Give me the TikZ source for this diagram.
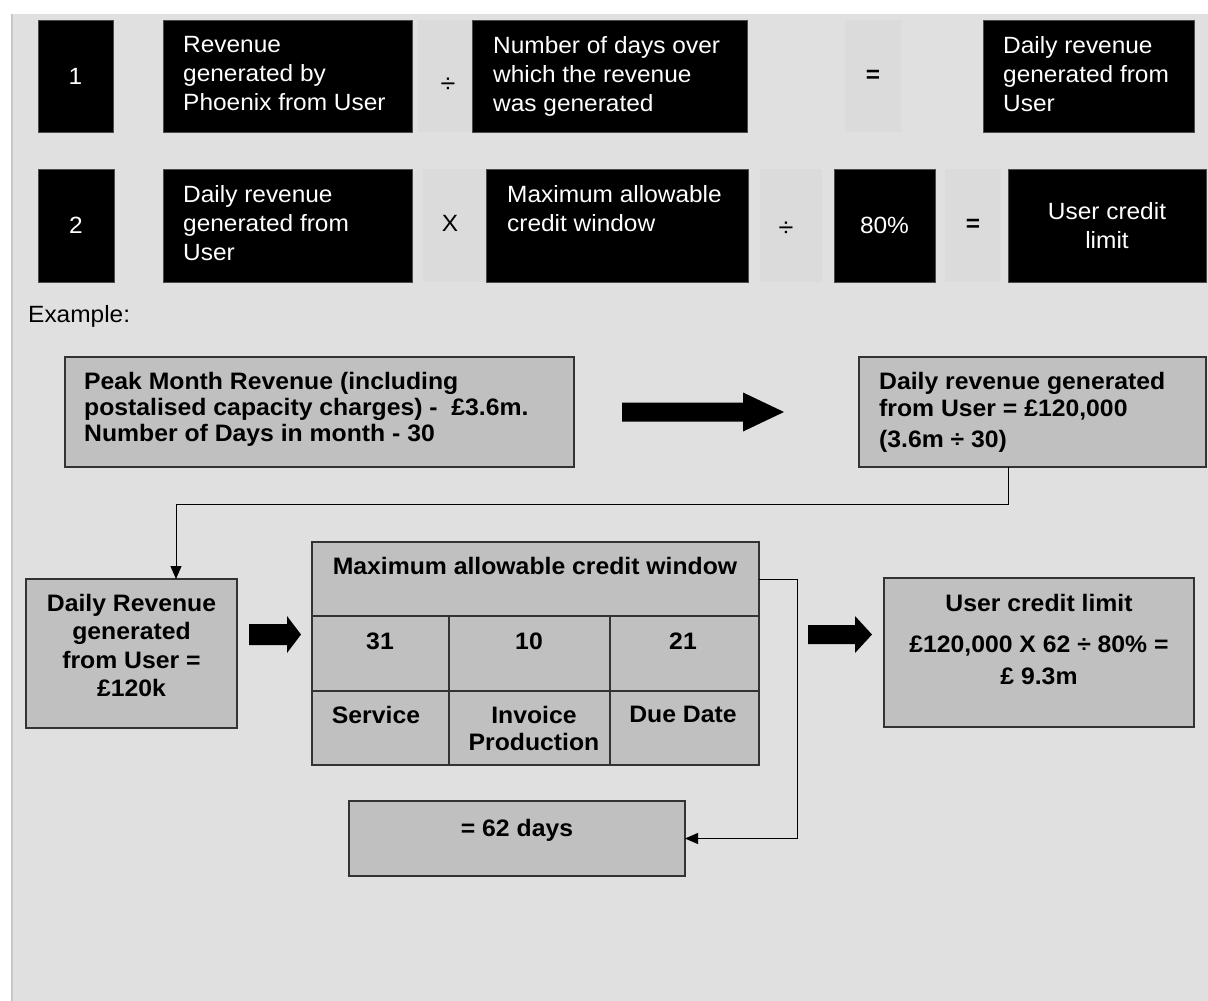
\documentclass[tikz,border=0pt]{standalone}
\usepackage{fontspec}
\setmainfont{Liberation Sans}[FakeStretch=1.04]
\usetikzlibrary{arrows.meta}
\definecolor{bg}{HTML}{E0E0E0}
\definecolor{opbg}{HTML}{DBDBDB}
\definecolor{boxg}{HTML}{C0C0C0}
\definecolor{edge}{HTML}{333333}
\definecolor{strip}{HTML}{C8C8C8}
\begin{document}
\begin{tikzpicture}[x=1pt,y=-1pt,
  blk/.style={fill=black, draw=black!70, line width=1pt, inner sep=0pt, outer sep=0pt, text=white, font=\fontsize{23.5}{29}\selectfont, align=center},
  opb/.style={fill=opbg, inner sep=0pt, outer sep=0pt, font=\fontsize{23.5}{29}\selectfont},
  gbx/.style={fill=boxg, draw=edge, line width=1.3pt, inner sep=0pt, outer sep=0pt},
  wt/.style={text=white, font=\fontsize{23.5}{29}\selectfont, inner sep=0pt, align=left},
  bt/.style={text=black, font=\bfseries\fontsize{23.8}{26}\selectfont, inner sep=0pt},
  opt/.style={inner sep=0pt, font=\fontsize{23.5}{29}\selectfont},
  conn/.style={draw=black, line width=1pt},
  tip/.style={-{Triangle[length=13pt,width=11pt]}},
  bigarrow/.style={fill=black}
]
\useasboundingbox (0,0) rectangle (1208,1001);
\fill[white] (0,0) rectangle (1208,1001);
\fill[bg] (11,14) rectangle (1208,1001);
\fill[strip] (11,14) rectangle (13,1001);

% ---- Row 1
\node[blk, minimum width=75pt, minimum height=112pt] (n1) at (75.5,76) {1};
\node[blk, minimum width=249pt, minimum height=112pt] (r1a) at (287.5,76) {};
\node[opb, minimum width=54pt, minimum height=112pt] (op1) at (445,76) {};
\node[blk, minimum width=275pt, minimum height=112pt] (r1b) at (609.5,76) {};
\node[opb, minimum width=56pt, minimum height=112pt] (eq1) at (873,76) {};
\node[blk, minimum width=211pt, minimum height=112pt] (r1c) at (1088.5,76) {};
\node[wt, anchor=north west] (t1a) at (183,36) {Revenue\\generated by\\Phoenix from User};
\node[opt, font=\fontsize{26}{29}\selectfont] (s1) at (448,85) {÷};
\node[wt, anchor=north west] (t1b) at (493,36) {Number of days over\\which the revenue\\was generated};
\node[opt] (s2) at (873,76) {\textbf{=}};
\node[wt, anchor=north west] (t1c) at (1003,36) {Daily revenue\\generated from\\User};

% ---- Row 2
\node[blk, minimum width=76pt, minimum height=113pt] (n2) at (76,225.5) {2};
\node[blk, minimum width=249pt, minimum height=113pt] (r2a) at (287.5,225.5) {};
\node[opb, minimum width=63pt, minimum height=113pt] (opx) at (454.5,225.5) {};
\node[blk, minimum width=262pt, minimum height=113pt] (r2b) at (617,225.5) {};
\node[opb, minimum width=62pt, minimum height=113pt] (div2) at (791,225.5) {};
\node[blk, minimum width=101pt, minimum height=113pt] (p80) at (884.5,225.5) {80\%};
\node[opb, minimum width=56pt, minimum height=113pt] (eq2) at (973,225.5) {};
\node[blk, minimum width=198pt, minimum height=113pt] (r2c) at (1107,225.5) {User credit\\limit};
\node[wt, anchor=north west] (t2a) at (183,185) {Daily revenue\\generated from\\User};
\node[opt] (s3) at (450,223) {X};
\node[wt, anchor=north west] (t2b) at (507,185) {Maximum allowable\\credit window};
\node[opt, font=\fontsize{26}{29}\selectfont] (s4) at (786,229) {÷};
\node[opt] (s5) at (973,225) {\textbf{=}};

% ---- Example
\node[opt, anchor=base west, font=\fontsize{23.5}{29}\selectfont] (ex) at (28,322) {Example:};

\node[gbx, minimum width=509pt, minimum height=110pt] (peak) at (319.5,412) {};
\node[bt, anchor=north west, align=left] (tpeak) at (84,372) {Peak Month Revenue (including\\postalised capacity charges) -\ \ £3.6m.\\Number of Days in month - 30};

\fill[bigarrow] (622,402.5) -- (743,402.5) -- (743,392.5) -- (784,412) -- (743,431.5) -- (743,421.5) -- (622,421.5) -- cycle;

\node[gbx, minimum width=347pt, minimum height=110pt] (drr) at (1032.5,412) {};
\node[bt, anchor=north west, align=left, font=\bfseries\fontsize{23.8}{27}\selectfont] (tdrr) at (879,372) {Daily revenue generated\\from User = £120,000\\[4pt](3.6m ÷ 30)};

\node[gbx, minimum width=211pt, minimum height=149pt] (drl) at (131.5,653.5) {};
\node[bt, anchor=north, align=center, font=\bfseries\fontsize{23.8}{28.5}\selectfont] (tdrl) at (131.5,594) {Daily Revenue\\generated\\from User =\\£120k};

\draw[conn, tip] ([xshift=149pt]drr.south west) -- ++(0,37) -| ([xshift=150pt]drl.north west);

\fill[bigarrow] (249,624) -- (287,624) -- (287,616) -- (301,634.5) -- (287,653) -- (287,645) -- (249,645) -- cycle;

% ---- table
\node[gbx, minimum width=447pt, minimum height=74pt] (hdr) at (535.5,579) {};
\node[gbx, minimum width=137pt, minimum height=75pt] (c11) at (380.5,653.5) {};
\node[gbx, minimum width=161pt, minimum height=75pt] (c12) at (529.5,653.5) {};
\node[gbx, minimum width=149pt, minimum height=75pt] (c13) at (684.5,653.5) {};
\node[gbx, minimum width=137pt, minimum height=74pt] (c21) at (380.5,728) {};
\node[gbx, minimum width=161pt, minimum height=74pt] (c22) at (529.5,728) {};
\node[gbx, minimum width=149pt, minimum height=74pt] (c23) at (684.5,728) {};
\node[bt, anchor=north] (thdr) at (535,557) {Maximum allowable credit window};
\node[bt, anchor=north] (t11) at (380,633) {31};
\node[bt, anchor=north] (t12) at (529,633) {10};
\node[bt, anchor=north] (t13) at (683,633) {21};
\node[bt, anchor=north] (t21) at (376,706) {Service};
\node[bt, anchor=north, align=center, font=\bfseries\fontsize{23.8}{27}\selectfont] (t22) at (534,706) {Invoice\\Production};
\node[bt, anchor=north] (t23) at (683,706) {Due Date};

\node[gbx, minimum width=336pt, minimum height=75pt] (d62) at (517,838.5) {};
\node[bt, anchor=north] (t62) at (517,819) {= 62 days};

\draw[conn, tip] (hdr.east) -- ++(38,0) |- (d62.east);

\fill[bigarrow] (808,625) -- (855,625) -- (855,616) -- (872,634.5) -- (855,653) -- (855,644) -- (808,644) -- cycle;

\node[gbx, minimum width=310pt, minimum height=149pt] (ucl) at (1039,652.5) {};
\node[bt, anchor=north, align=center] (tucl) at (1039,594) {User credit limit\\[15pt]£120,000 X 62 ÷ 80\% =\\[6pt]£ 9.3m};
\end{tikzpicture}
\end{document}
